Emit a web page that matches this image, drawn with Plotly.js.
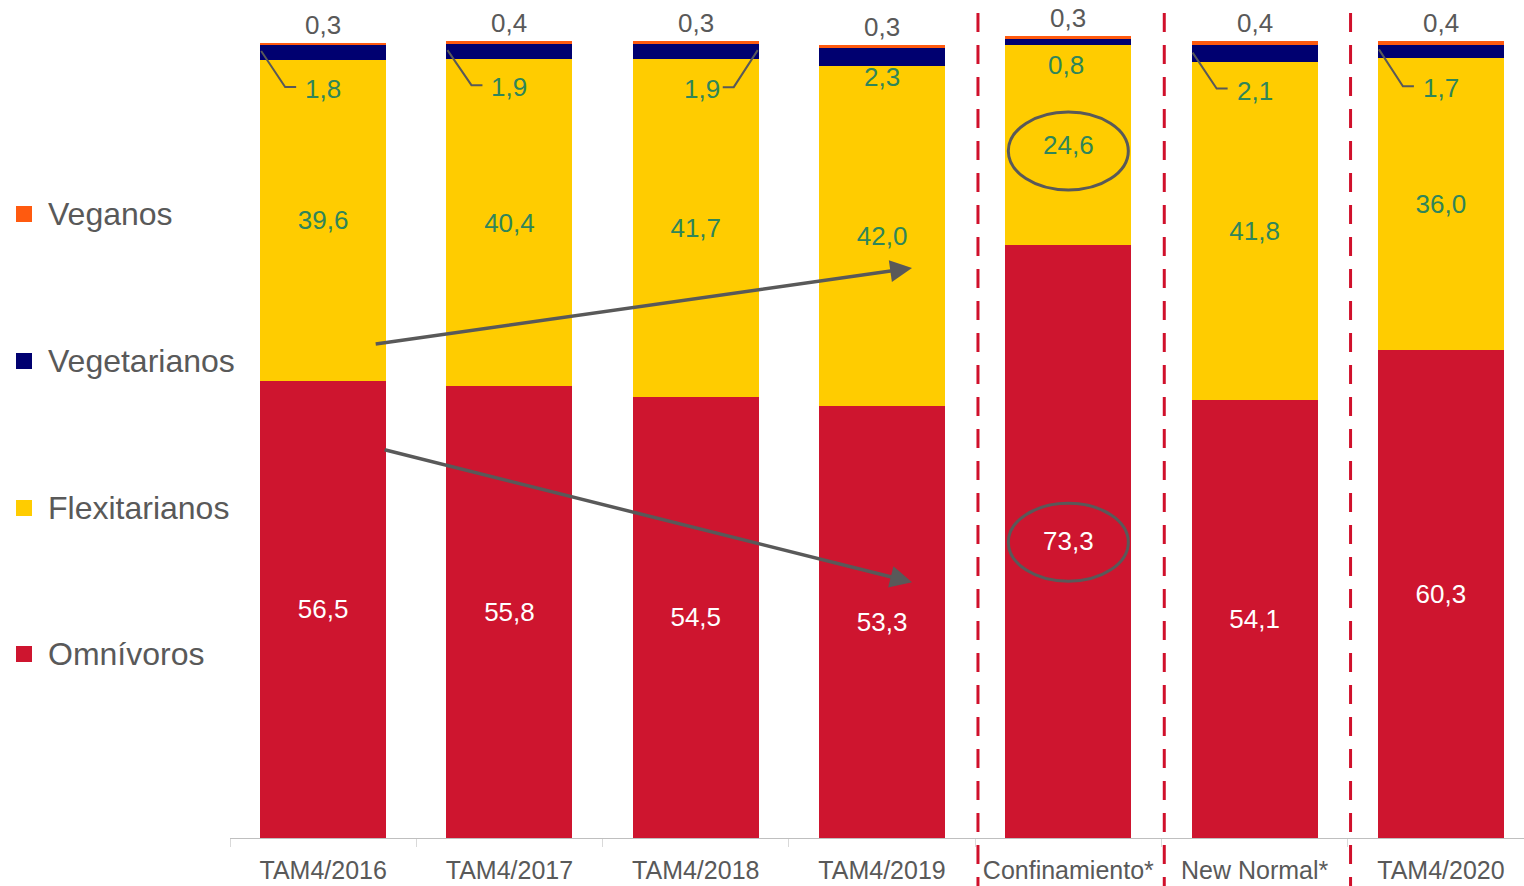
<!DOCTYPE html>
<html>
<head>
<meta charset="utf-8">
<script src="https://cdn.plot.ly/plotly-3.0.1.min.js"></script>
<style>
  html, body { margin: 0; padding: 0; background: #ffffff; }
  #chart { width: 1524px; height: 886px; }
</style>
</head>
<body>
<div id="chart"></div>
<script>
// ---- Data ----
const categories = ['TAM4/2016', 'TAM4/2017', 'TAM4/2018', 'TAM4/2019', 'Confinamiento*', 'New Normal*', 'TAM4/2020'];
const omnivoros = [56.5, 55.8, 54.5, 53.3, 73.3, 54.1, 60.3];
const flexitarianos = [39.6, 40.4, 41.7, 42.0, 24.6, 41.8, 36.0];
const vegetarianos = [1.8, 1.9, 1.9, 2.3, 0.8, 2.1, 1.7];
const veganos = [0.3, 0.4, 0.3, 0.3, 0.3, 0.4, 0.4];
const seriesNames = ['Veganos', 'Vegetarianos', 'Flexitarianos', 'Omnívoros'];

// ---- Styles ----
const FONT = 'Liberation Sans, Arial, sans-serif';
const colors = { veg: '#FF5A0F', vegt: '#000070', flex: '#FFCC00', omni: '#CE152F' };
const GRAY = '#595959';
const GREEN = '#2F855A';
const LABEL_SIZE = 26;

// layout geometry
const M = { l: 230, r: 0, t: 30, b: 48 };
const W = 1524, H = 886;
const plotW = W - M.l - M.r, plotH = H - M.t - M.b;
const pxX = px => (px - M.l) / plotW;        // pixel -> paper x
const pxY = py => (H - M.b - py) / plotH;    // pixel -> paper y

const fmt = v => v.toFixed(1).replace('.', ',');

// vegetarian label placement (pixel offsets from the top of the flexitarian segment)
const vegYShift = [-29, -28, -30, -11, -20, -29, -30];
const vegXShift = [0, 0, 6, 0, -2, 0, 0];
const leaderSide = ['left', 'left', 'right', 'none', 'none', 'left', 'left'];

const traces = [
  { name: 'Omnívoros', y: omnivoros, color: colors.omni, text: true, tcolor: '#FFFFFF' },
  { name: 'Flexitarianos', y: flexitarianos, color: colors.flex, text: true, tcolor: GREEN },
  { name: 'Vegetarianos', y: vegetarianos, color: colors.vegt, text: false },
  { name: 'Veganos', y: veganos, color: colors.veg, text: false }
].map(s => ({
  type: 'bar',
  name: s.name,
  x: categories,
  y: s.y,
  marker: { color: s.color, line: { width: 0 } },
  texttemplate: s.text ? '%{y:.1f}' : '',
  textposition: s.text ? 'inside' : 'none',
  insidetextanchor: 'middle',
  textangle: 0,
  textfont: { family: FONT, size: LABEL_SIZE, color: s.tcolor || GRAY },
  hoverinfo: 'skip',
  showlegend: false
}));

const annotations = [];
const shapes = [];

categories.forEach((c, i) => {
  const flexTop = omnivoros[i] + flexitarianos[i];
  const total = flexTop + vegetarianos[i] + veganos[i];
  // vegan label on top
  annotations.push({
    x: i, y: total, xref: 'x', yref: 'y', text: fmt(veganos[i]), showarrow: false,
    yanchor: 'middle', yshift: 18,
    font: { family: FONT, size: LABEL_SIZE, color: GRAY }
  });
  // vegetarian label
  annotations.push({
    x: i, y: flexTop, xref: 'x', yref: 'y', text: fmt(vegetarianos[i]), showarrow: false,
    yanchor: 'middle', yshift: vegYShift[i], xshift: vegXShift[i],
    font: { family: FONT, size: LABEL_SIZE, color: GREEN }
  });
  // leader line
  if (leaderSide[i] !== 'none') {
    const s = vegYShift[i] + 2;
    const k = leaderSide[i] === 'left' ? -1 : 1;
    shapes.push({
      type: 'path', xref: 'x', yref: 'y', xsizemode: 'pixel', ysizemode: 'pixel',
      xanchor: i, yanchor: flexTop,
      path: `M${k * 62},9 L${k * 38},${s} L${k * 27},${s}`,
      line: { color: GRAY, width: 2 }
    });
  }
});

// ellipses around Confinamiento labels
const confIdx = categories.indexOf('Confinamiento*');
[[omnivoros[confIdx] + flexitarianos[confIdx] / 2, -6], [omnivoros[confIdx] / 2, -1]].forEach(([yc, dy]) => {
  shapes.push({
    type: 'circle', xref: 'x', yref: 'y', xsizemode: 'pixel', ysizemode: 'pixel',
    xanchor: confIdx, yanchor: yc,
    x0: -60, x1: 60, y0: dy - 39, y1: dy + 39,
    line: { color: GRAY, width: 3 }
  });
});

// trend arrows (from TAM4/2016 toward TAM4/2019)
const arrows = [
  { ax: 0.274, ay: 61.0, x: 3.161, y: 70.4 },
  { ax: 0.322, ay: 48.0, x: 3.161, y: 31.6 }
];
arrows.forEach(a => annotations.push({
  x: a.x, y: a.y, ax: a.ax, ay: a.ay, xref: 'x', yref: 'y', axref: 'x', ayref: 'y',
  text: '', showarrow: true, arrowhead: 2, arrowsize: 1.25, arrowwidth: 3.5, arrowcolor: GRAY
}));

// dashed separators
[3, 4, 5].forEach(i => shapes.push({
  type: 'line', xref: 'x', yref: 'paper', x0: i + 0.515, x1: i + 0.515,
  y0: pxY(13), y1: pxY(H + 5),
  line: { color: '#D0102B', width: 3, dash: '19px,13px' }
}));

// custom legend
const legendColors = [colors.veg, colors.vegt, colors.flex, colors.omni];
const legendY = [214, 361, 508, 654];
seriesNames.forEach((n, k) => {
  shapes.push({
    type: 'rect', xref: 'paper', yref: 'paper',
    x0: pxX(16), x1: pxX(32), y0: pxY(legendY[k] + 8), y1: pxY(legendY[k] - 8),
    fillcolor: legendColors[k], line: { width: 0 }
  });
  annotations.push({
    xref: 'paper', yref: 'paper', x: pxX(46), y: pxY(legendY[k]),
    xanchor: 'left', yanchor: 'middle', text: n, showarrow: false,
    font: { family: FONT, size: 32, color: GRAY }
  });
});

const layout = {
  width: W, height: H,
  margin: M,
  paper_bgcolor: '#FFFFFF', plot_bgcolor: '#FFFFFF',
  barmode: 'stack',
  bargap: 0.324,
  separators: ',.',
  showlegend: false,
  font: { family: FONT, color: GRAY },
  xaxis: {
    type: 'category',
    range: [-0.5, 6.446],
    showline: true, linecolor: '#BFBFBF', linewidth: 1,
    ticks: 'outside', tickson: 'boundaries', ticklen: 8, tickcolor: '#D9D9D9', tickwidth: 1,
    ticklabelstandoff: 10,
    tickfont: { family: FONT, size: 25, color: GRAY },
    showgrid: false, zeroline: false, fixedrange: true
  },
  yaxis: {
    range: [0, 99.8], visible: false, showgrid: false, zeroline: false, fixedrange: true
  },
  annotations: annotations,
  shapes: shapes
};

Plotly.newPlot('chart', traces, layout, { displayModeBar: false, staticPlot: true });
</script>
</body>
</html>
